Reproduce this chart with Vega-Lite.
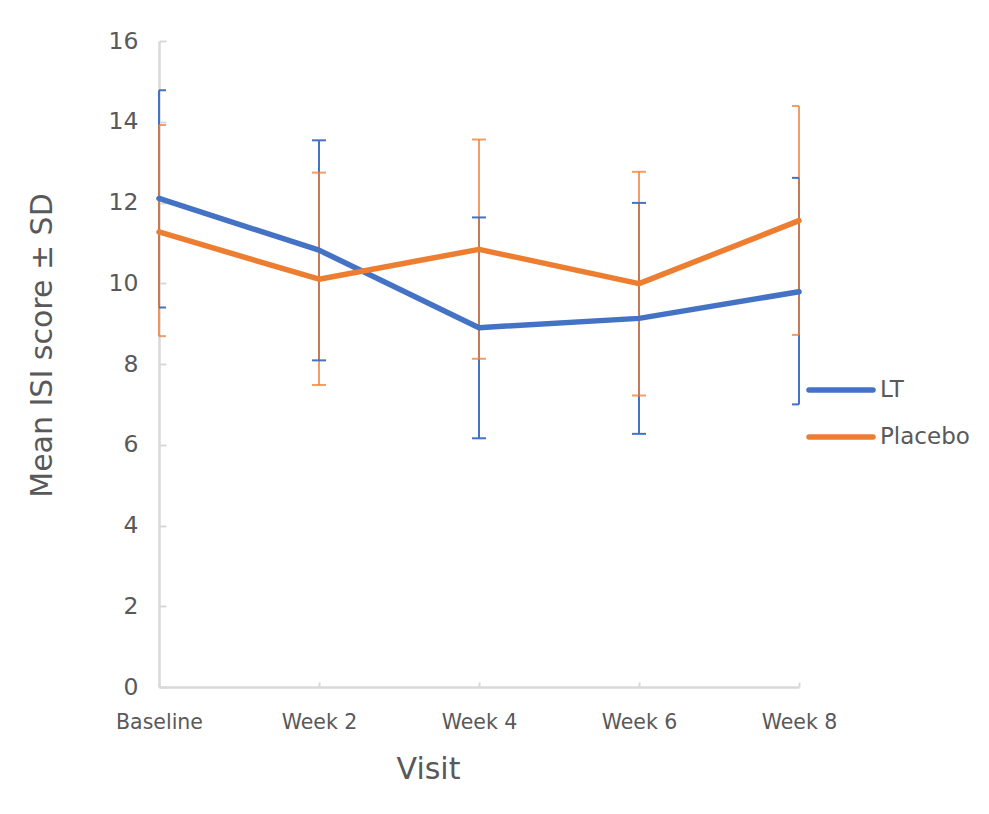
{
  "$schema": "https://vega.github.io/schema/vega-lite/v6.json",
  "autosize": {"type": "none"},
  "width": 640,
  "height": 646,
  "padding": {"left": 159, "top": 41, "right": 190, "bottom": 127},
  "background": "white",
  "data": {
    "values": [
      {"visit": "Baseline", "group": "LT", "mean": 12.1, "lo": 9.4, "hi": 14.78},
      {"visit": "Week 2", "group": "LT", "mean": 10.82, "lo": 8.09, "hi": 13.54},
      {"visit": "Week 4", "group": "LT", "mean": 8.9, "lo": 6.16, "hi": 11.63},
      {"visit": "Week 6", "group": "LT", "mean": 9.13, "lo": 6.27, "hi": 11.99},
      {"visit": "Week 8", "group": "LT", "mean": 9.79, "lo": 7.0, "hi": 12.61},
      {"visit": "Baseline", "group": "Placebo", "mean": 11.27, "lo": 8.69, "hi": 13.92},
      {"visit": "Week 2", "group": "Placebo", "mean": 10.1, "lo": 7.48, "hi": 12.74},
      {"visit": "Week 4", "group": "Placebo", "mean": 10.84, "lo": 8.13, "hi": 13.56},
      {"visit": "Week 6", "group": "Placebo", "mean": 9.99, "lo": 7.22, "hi": 12.76},
      {"visit": "Week 8", "group": "Placebo", "mean": 11.55, "lo": 8.72, "hi": 14.39}
    ]
  },
  "encoding": {
    "x": {
      "field": "visit",
      "type": "ordinal",
      "sort": ["Baseline", "Week 2", "Week 4", "Week 6", "Week 8"],
      "scale": {"type": "point", "padding": 0},
      "title": "Visit"
    },
    "color": {
      "field": "group",
      "type": "nominal",
      "scale": {"domain": ["LT", "Placebo"], "range": ["#4472C4", "#ED7D31"]},
      "title": null,
      "legend": {
        "orient": "none",
        "legendX": 647,
        "legendY": 314,
        "padding": 0,
        "symbolType": "stroke",
        "symbolSize": 4096,
        "symbolStrokeWidth": 5.5,
        "labelFont": "DejaVu Sans",
        "labelFontSize": 23,
        "labelColor": "#595959",
        "labelOffset": 4,
        "rowPadding": -11,
        "symbolOpacity": 1,
        "encode": {"symbols": {"update": {"strokeCap": {"value": "round"}}}}
      }
    }
  },
  "layer": [
    {
      "mark": {"type": "rule", "strokeWidth": 2},
      "encoding": {
        "y": {"field": "lo", "type": "quantitative", "scale": {"domain": [0, 16], "nice": false}, "title": "Mean ISI score ± SD", "axis": {"values": [0, 2, 4, 6, 8, 10, 12, 14, 16]}},
        "y2": {"field": "hi"},
        "opacity": {"condition": {"test": "datum.group === 'Placebo'", "value": 0.75}, "value": 1}
      }
    },
    {
      "mark": {"type": "tick", "size": 14, "thickness": 2, "clip": true, "orient": "horizontal"},
      "encoding": {
        "y": {"field": "lo", "type": "quantitative", "title": "Mean ISI score ± SD", "axis": {"values": [0, 2, 4, 6, 8, 10, 12, 14, 16]}},
        "opacity": {"condition": {"test": "datum.group === 'Placebo'", "value": 0.75}, "value": 1}
      }
    },
    {
      "mark": {"type": "tick", "size": 14, "thickness": 2, "clip": true, "orient": "horizontal"},
      "encoding": {
        "y": {"field": "hi", "type": "quantitative", "title": "Mean ISI score ± SD", "axis": {"values": [0, 2, 4, 6, 8, 10, 12, 14, 16]}},
        "opacity": {"condition": {"test": "datum.group === 'Placebo'", "value": 0.75}, "value": 1}
      }
    },
    {
      "mark": {"type": "line", "strokeWidth": 5.5, "strokeCap": "round", "strokeJoin": "round"},
      "encoding": {
        "y": {"field": "mean", "type": "quantitative", "title": "Mean ISI score ± SD", "axis": {"values": [0, 2, 4, 6, 8, 10, 12, 14, 16]}}
      }
    }
  ],
  "config": {
    "font": "DejaVu Sans",
    "view": {"stroke": null},
    "axisX": {
      "domainColor": "#D9D9D9",
      "domainWidth": 2.5,
      "tickColor": "#D9D9D9",
      "tickWidth": 2,
      "tickSize": -5,
      "labelFont": "DejaVu Sans",
      "labelFontSize": 20.5,
      "labelColor": "#595959",
      "labelPadding": 46,
      "labelBaseline": "alphabetic",
      "labelAngle": 0,
      "titleFont": "DejaVu Sans",
      "titleFontSize": 30,
      "titleFontWeight": "normal",
      "titleColor": "#595959",
      "titleX": 269,
      "titleY": 91,
      "titleAlign": "center",
      "titleBaseline": "alphabetic",
      "grid": false
    },
    "axisY": {
      "domainColor": "#D9D9D9",
      "domainWidth": 2.5,
      "tickColor": "#D9D9D9",
      "tickWidth": 2,
      "tickSize": -7,
      "labelFont": "DejaVu Sans",
      "labelFontSize": 23.5,
      "labelColor": "#595959",
      "labelPadding": 28,
      "labelBaseline": "middle",
      "titleFont": "DejaVu Sans",
      "titleFontSize": 30,
      "titleFontWeight": "normal",
      "titleColor": "#595959",
      "titleX": -108,
      "titleY": 304,
      "titleAngle": -90,
      "titleAlign": "center",
      "titleBaseline": "alphabetic",
      "grid": false,
      "zindex": 1
    }
  }
}
